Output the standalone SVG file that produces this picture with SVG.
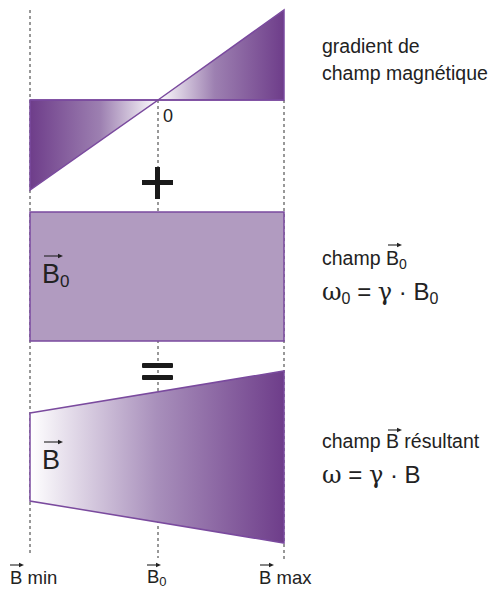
<svg xmlns="http://www.w3.org/2000/svg" width="496" height="590" viewBox="0 0 496 590">
<defs>
<linearGradient id="gL" x1="30" y1="0" x2="158" y2="0" gradientUnits="userSpaceOnUse"><stop offset="0" stop-color="#6e3d8a"/><stop offset="0.55" stop-color="#9d80b1"/><stop offset="1" stop-color="#ffffff"/></linearGradient>
<linearGradient id="gR" x1="158" y1="0" x2="284" y2="0" gradientUnits="userSpaceOnUse"><stop offset="0" stop-color="#ffffff"/><stop offset="0.45" stop-color="#9d80b1"/><stop offset="1" stop-color="#6e3d8a"/></linearGradient>
<linearGradient id="gT" x1="30" y1="0" x2="284" y2="0" gradientUnits="userSpaceOnUse"><stop offset="0" stop-color="#ffffff"/><stop offset="0.5" stop-color="#a88fbb"/><stop offset="1" stop-color="#6e3d8a"/></linearGradient>
<path id="vh" d="M-5,-2.3 L0,0 L-5,2.3 Z"/>
</defs>
<style>
.dash{stroke:#333;stroke-width:1;stroke-dasharray:3,3;fill:none}
.shape{stroke:#7a4a9e;stroke-width:1.5}
.t{font-family:"Liberation Sans",Arial,sans-serif;fill:#222}
.g{font-family:"DejaVu Serif","Liberation Serif",serif}
.vs{stroke:#222;stroke-width:1.1}
.vhd{fill:#222}
.op{fill:#1a1a1a}
</style>
<g id="guides">
<line class="dash" x1="30" y1="10" x2="30" y2="553"/>
<line class="dash" x1="158" y1="100" x2="158" y2="558"/>
<line class="dash" x1="284" y1="100" x2="284" y2="560"/>
</g>
<g id="gradient">
<polygon class="shape" points="30,100 158,100 30,190" fill="url(#gL)"/>
<polygon class="shape" points="158,100 284,10 284,100" fill="url(#gR)"/>
<line class="shape" x1="30" y1="100" x2="284" y2="100"/>
<text class="t" x="163" y="122" font-size="18">0</text>
</g>
<g id="plus">
<rect class="op" x="142" y="180" width="31" height="5"/>
<rect class="op" x="155" y="167" width="5" height="32"/>
</g>
<g id="b0rect">
<rect class="shape" x="30" y="212" width="254" height="129" fill="#b19bc0"/>
<text class="t" x="42" y="283" font-size="27">B<tspan font-size="17" dy="4">0</tspan></text>
<line class="vs" x1="44" y1="256" x2="60" y2="256"/><use href="#vh" class="vhd" x="63" y="256"/>
</g>
<g id="equals">
<rect class="op" x="142" y="363" width="31" height="5" rx="1"/>
<rect class="op" x="142" y="375" width="31" height="5" rx="1"/>
</g>
<g id="result">
<polygon class="shape" points="30,413 284,371 284,543 30,501" fill="url(#gT)"/>
<text class="t" x="42" y="469" font-size="27">B</text>
<line class="vs" x1="44" y1="442" x2="60" y2="442"/><use href="#vh" class="vhd" x="63" y="442"/>
</g>
<g id="labels-right">
<text class="t" x="322" y="53" font-size="19.5">gradient de</text>
<text class="t" x="322" y="80" font-size="19.5">champ magnétique</text>
<text class="t" x="322" y="265" font-size="19.5">champ B<tspan font-size="14" dy="4">0</tspan></text>
<line class="vs" x1="388" y1="245" x2="399" y2="245"/><use href="#vh" class="vhd" x="402" y="245"/>
<text class="t" x="322" y="300" font-size="24"><tspan class="g" font-size="24">ω</tspan><tspan font-size="16" dy="4">0</tspan><tspan dy="-4"> = </tspan><tspan class="g" font-size="24">γ</tspan><tspan> · B</tspan><tspan font-size="16" dy="4">0</tspan></text>
<text class="t" x="322" y="448" font-size="19.5">champ B résultant</text>
<line class="vs" x1="388" y1="430" x2="399" y2="430"/><use href="#vh" class="vhd" x="402" y="430"/>
<text class="t" x="322" y="483" font-size="24"><tspan class="g" font-size="24">ω</tspan><tspan> = </tspan><tspan class="g" font-size="24">γ</tspan><tspan> · B</tspan></text>
</g>
<g id="labels-bottom">
<text class="t" x="10" y="584" font-size="18.5">B min</text>
<line class="vs" x1="10" y1="565" x2="21" y2="565"/><use href="#vh" class="vhd" x="24" y="565"/>
<text class="t" x="147" y="583" font-size="18.5">B<tspan font-size="13" dy="3">0</tspan></text>
<line class="vs" x1="147" y1="565" x2="158" y2="565"/><use href="#vh" class="vhd" x="161" y="565"/>
<text class="t" x="259" y="584" font-size="18.5">B max</text>
<line class="vs" x1="260" y1="565" x2="271" y2="565"/><use href="#vh" class="vhd" x="274" y="565"/>
</g>
</svg>
